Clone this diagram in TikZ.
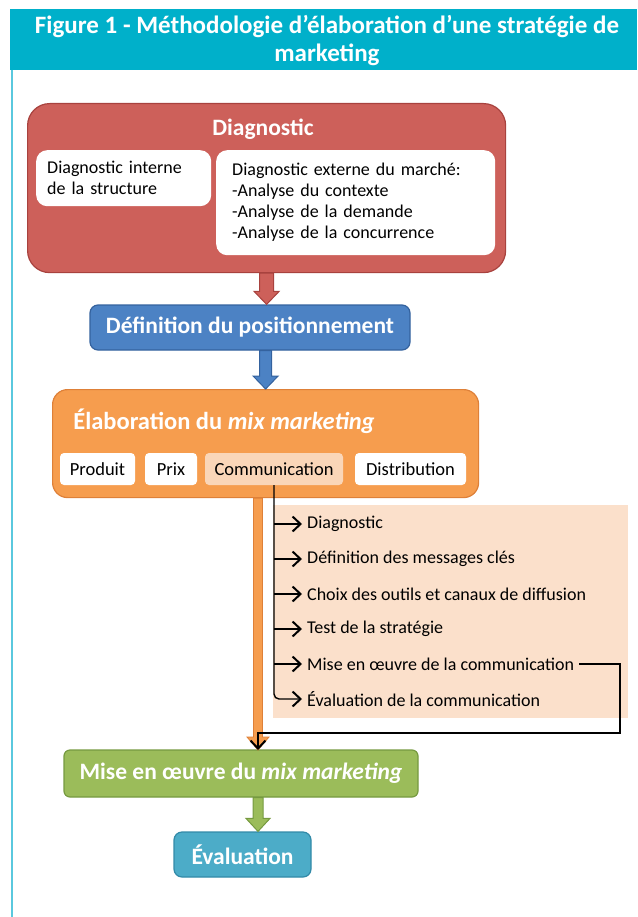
\documentclass[tikz,border=0pt]{standalone}
\usepackage{fontspec}
\setmainfont{Carlito}
\usetikzlibrary{calc,arrows.meta}
\definecolor{figcyan}{RGB}{0,176,202}
\definecolor{edgecyan}{RGB}{90,200,222}
\definecolor{diagred}{RGB}{205,96,90}
\definecolor{diagredd}{RGB}{168,66,62}
\definecolor{posblue}{RGB}{76,130,196}
\definecolor{posblued}{RGB}{52,98,158}
\definecolor{mixorange}{RGB}{246,157,78}
\definecolor{mixoranged}{RGB}{222,128,56}
\definecolor{commpeach}{RGB}{250,214,184}
\definecolor{panelpeach}{RGB}{251,224,203}
\definecolor{mepgreen}{RGB}{155,188,90}
\definecolor{mepgreend}{RGB}{118,154,64}
\definecolor{evalblue}{RGB}{76,172,200}
\definecolor{evalblued}{RGB}{50,138,168}
% block arrow: style, from, to, half shaft, half head
\newcommand{\blockarrow}[5]{%
  \draw[#1] ($(#2)+(-#4,0)$) -- ($(#3)+(-#4,-13)$) -- ($(#3)+(-#5,-13)$) -- (#3)
    -- ($(#3)+(#5,-13)$) -- ($(#3)+(#4,-13)$) -- ($(#2)+(#4,0)$) -- cycle;}

\begin{document}
\begin{tikzpicture}[x=1pt,y=-1pt,
    boxtitle/.style={text=white,font=\fontsize{23.5}{26}\selectfont\bfseries},
    whitebox/.style={fill=white,rounded corners=11pt,anchor=north west,align=left,
      font=\fontsize{18}{21}\selectfont},
    subbox/.style={fill=white,rounded corners=4pt,minimum height=32,
      font=\fontsize{18.5}{20}\selectfont},
    item/.style={anchor=west,inner xsep=5pt,font=\fontsize{18}{20}\selectfont},
    commline/.style={line width=1.4pt,-{Straight Barb[length=8pt,width=15pt,line width=2pt]}}]
  \useasboundingbox (0,0) rectangle (637,917);
  % frame
  \fill[figcyan] (10,9) rectangle (637,70);
  \node[align=center,text=white,font=\fontsize{25}{28}\selectfont\bfseries] (title) at (327,41)
    {Figure 1 - Méthodologie d’élaboration d’une stratégie de\\marketing};
  \draw[line width=2.5pt,edgecyan] (12,70) -- (12,917);

  % diagnostic
  \node[draw=diagredd,fill=diagred,line width=1.2pt,rounded corners=22pt,
    minimum width=478,minimum height=169,anchor=north west] (diag) at (27,103) {};
  \node[boxtitle] (diagt) at (263,129) {Diagnostic};
  \node[whitebox,text width=153,inner xsep=11pt,minimum height=56] (diagint) at (36,150)
    {Diagnostic interne\\de la structure};
  \node[whitebox,text width=247,inner xsep=16pt,minimum height=105] (diagext) at (216,150)
    {Diagnostic externe du marché:\\-Analyse du contexte\\-Analyse de la demande\\-Analyse de la concurrence};

  % positionnement
  \node[boxtitle,draw=posblued,fill=posblue,line width=1.2pt,rounded corners=8pt,
    minimum width=320,minimum height=45] (pos) at (250,327.5) {Définition du positionnement};
  \coordinate (redtop) at (diag.south);
  \coordinate (redtip) at (pos.north -| diag.south);
  \blockarrow{fill=diagred,draw=diagredd,line width=1pt}{redtop}{redtip}{7}{12.5}

  % mix marketing
  \node[draw=mixoranged,fill=mixorange,line width=1.2pt,rounded corners=15pt,
    minimum width=426,minimum height=108,anchor=north west] (mix) at (52,389) {};
  \node[boxtitle,font=\fontsize{24.5}{26}\selectfont\bfseries] (mixt) at (224,421)
    {Élaboration du \textit{mix marketing}};
  \coordinate (bluetop) at (pos.south -| mix.north);
  \blockarrow{fill=posblue,draw=posblued,line width=1pt}{bluetop}{mix.north}{6}{12.5}
  \node[subbox,minimum width=75] (prod) at (97.5,469) {Produit};
  \node[subbox,minimum width=52] (prix) at (171,469) {Prix};
  \node[subbox,fill=commpeach,minimum width=138] (comm) at (274,469) {Communication};
  \node[subbox,minimum width=111] (distr) at (410.5,469) {Distribution};

  % communication steps
  \fill[panelpeach] (273,505) rectangle (628,718);
  \foreach \t [count=\i] in {Diagnostic,Définition des messages clés,
      Choix des outils et canaux de diffusion,Test de la stratégie,
      Mise en œuvre de la communication,Évaluation de la communication}
    \node[item] (it\i) at (302,{524+35*(\i-1)}) {\t};

  % mise en oeuvre / evaluation
  \node[boxtitle,draw=mepgreend,fill=mepgreen,line width=1.2pt,rounded corners=6pt,
    minimum width=354,minimum height=47] (mep) at (241,773.5) {Mise en œuvre du \textit{mix marketing}};
  \node[boxtitle,draw=evalblued,fill=evalblue,line width=1.2pt,rounded corners=8pt,
    minimum width=137,minimum height=45] (eval) at (242.5,854.5) {Évaluation};

  \coordinate (bartip) at (258,750);
  \coordinate (bartop) at (mix.south -| bartip);
  \blockarrow{fill=mixorange,draw=mixoranged,line width=0.8pt}{bartop}{bartip}{4.5}{11}
  \coordinate (gtop) at (mep.south -| bartip);
  \coordinate (gtip) at (eval.north -| bartip);
  \blockarrow{fill=mepgreen,draw=mepgreend,line width=1pt}{gtop}{gtip}{5}{12}

  \draw[commline,rounded corners=5pt] (comm.south) |- (it6.west);
  \foreach \i in {1,...,5}
    \draw[commline] (comm.south |- it\i.west) -- (it\i.west);
  \coordinate (ret) at (620,733);
  \draw[commline] (it5.east) -| (ret) -| (bartip);
\end{tikzpicture}
\end{document}
